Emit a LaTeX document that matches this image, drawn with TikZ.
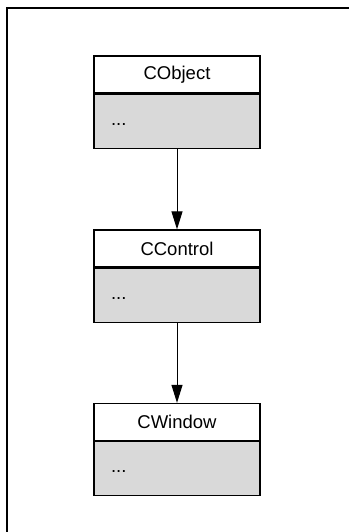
\documentclass[tikz,border=0pt]{standalone}
\usepackage{fontspec}
\setmainfont{Liberation Sans}
\usetikzlibrary{arrows.meta}
\definecolor{bodygray}{RGB}{217,217,217}
\begin{document}
\begin{tikzpicture}[x=1pt,y=-1pt,
  hdr/.style={draw=black, line width=1.3pt, fill=white, minimum width=166pt, minimum height=37pt, inner sep=0pt, font=\fontsize{18.5}{20}\selectfont},
  bdy/.style={draw=black, line width=1.3pt, fill=bodygray, minimum width=166pt, minimum height=54pt, inner xsep=17pt, inner ysep=0pt, text width=132pt, align=left, font=\fontsize{18.5}{20}\selectfont},
  arr/.style={line width=1pt, -{Triangle[width=11pt,length=18pt]}},
  frame/.style={line width=2pt, black}]
\useasboundingbox (0,0) rectangle (349,532);
\draw[frame] (7,532) -- (7,8) -- (349,8);
\node[hdr] (objh) at (177,74.5) {CObject};
\node[bdy, anchor=north] (objb) at (objh.south) {\strut...};
\node[hdr] (ctlh) at (177,248.5) {CControl};
\node[bdy, anchor=north] (ctlb) at (ctlh.south) {\strut...};
\node[hdr] (winh) at (177,422) {CWindow};
\node[bdy, anchor=north] (winb) at (winh.south) {\strut...};
\draw[arr] (objb.south) -- (ctlh.north);
\draw[arr] (ctlb.south) -- (winh.north);
\end{tikzpicture}
\end{document}
